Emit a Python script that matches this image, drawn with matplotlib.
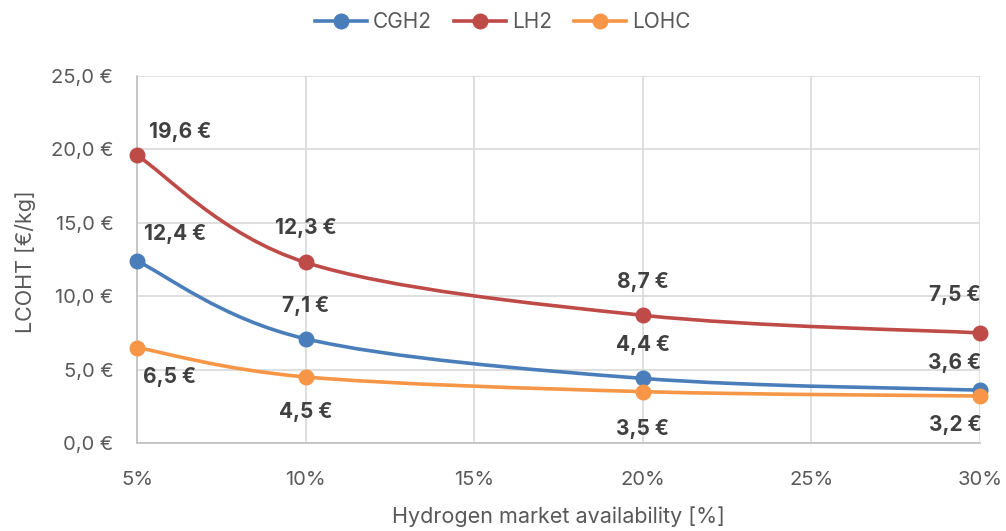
import matplotlib
matplotlib.use("Agg")
import matplotlib.pyplot as plt
from matplotlib.path import Path
from matplotlib.patches import PathPatch
from matplotlib.lines import Line2D
import numpy as np

plt.rcParams['font.family'] = ['Inter', 'DejaVu Sans']

availability = [5, 10, 20, 30]
cgh2 = [12.4, 7.1, 4.4, 3.6]
lh2 = [19.6, 12.3, 8.7, 7.5]
lohc = [6.5, 4.5, 3.5, 3.2]

series = [
    ("CGH2", cgh2, "#4A7EBB"),
    ("LH2", lh2, "#BE4B48"),
    ("LOHC", lohc, "#F79646"),
]

# label offsets in pixels (dx, dy) per series / point
label_offsets = {
    "CGH2": [(38, 27), (0, 33), (0, 33), (-25, 27)],
    "LH2": [(43, 23), (0, 34), (0, 33), (-25, 38)],
    "LOHC": [(33, -29), (0, -35), (0, -37), (-25, -29)],
}

fig = plt.figure(figsize=(10.06, 5.31), dpi=100)
ax = fig.add_axes([137/1006, 1-443/531, (980-137)/1006, (443-76)/531])
ax.set_xlim(5, 30)
ax.set_ylim(0, 25)


def smooth_path(xs, ys):
    pts = np.column_stack([xs, ys]).astype(float)
    n = len(pts)
    verts = [pts[0]]
    codes = [Path.MOVETO]
    for i in range(n - 1):
        p0 = pts[i - 1] if i > 0 else pts[i]
        p1 = pts[i]
        p2 = pts[i + 1]
        p3 = pts[i + 2] if i + 2 < n else pts[i + 1]
        c1 = p1 + (p2 - p0) / 6.0
        c2 = p2 - (p3 - p1) / 6.0
        verts += [c1, c2, p2]
        codes += [Path.CURVE4] * 3
    return Path(verts, codes)


def fmt(v):
    return f"{v:.1f}".replace('.', ',') + " €"


px2pt = 72 / 100
handles = []
for name, vals, color in series:
    patch = PathPatch(smooth_path(availability, vals), facecolor='none',
                      edgecolor=color, lw=2.6, zorder=3, clip_on=False,
                      capstyle='round')
    ax.add_patch(patch)
    ax.plot(availability, vals, 'o', color=color, ms=10.5, zorder=4, clip_on=False)
    handles.append(Line2D([], [], color=color, lw=2.6, marker='o', ms=10.5))
    for (x, y), (dx, dy) in zip(zip(availability, vals), label_offsets[name]):
        ax.annotate(fmt(y), (x, y), xytext=(dx * px2pt, dy * px2pt),
                    textcoords='offset points', ha='center', va='center',
                    fontsize=15, fontweight='bold', color='#404040', zorder=5)

ax.set_xticks([5, 10, 15, 20, 25, 30])
ax.set_xticklabels([f"{t}%" for t in [5, 10, 15, 20, 25, 30]])
ax.set_yticks([0, 5, 10, 15, 20, 25])
ax.set_yticklabels([fmt(t) for t in [0, 5, 10, 15, 20, 25]])
ax.grid(True, color='#D9D9D9', lw=1.2)
ax.set_axisbelow(True)
for s in ['top', 'right']:
    ax.spines[s].set_visible(False)
for s in ['left', 'bottom']:
    ax.spines[s].set_color('#BFBFBF')
    ax.spines[s].set_linewidth(1.2)
ax.tick_params(length=0, labelsize=14.5, colors='#595959')
ax.tick_params(axis='y', pad=17)
ax.tick_params(axis='x', pad=20)
ax.set_xlabel("Hydrogen market availability [%]", fontsize=15.5, color='#595959')
ax.set_ylabel("LCOHT [€/kg]", fontsize=15.5, color='#595959')
ax.xaxis.set_label_coords(0.5, (443 - 517) / 367)
ax.xaxis.label.set_va('center')
ax.yaxis.set_label_coords((25 - 137) / 843, (443 - 262) / 367)
ax.yaxis.label.set_va('center')

fig.legend(handles, [s[0] for s in series], loc='center', bbox_to_anchor=(0.5, 1-22/531),
           ncol=3, frameon=False, fontsize=15, handlelength=2.5, handletextpad=0.3,
           columnspacing=1.05, labelcolor='#595959')

fig.savefig("out.png", dpi=100)
